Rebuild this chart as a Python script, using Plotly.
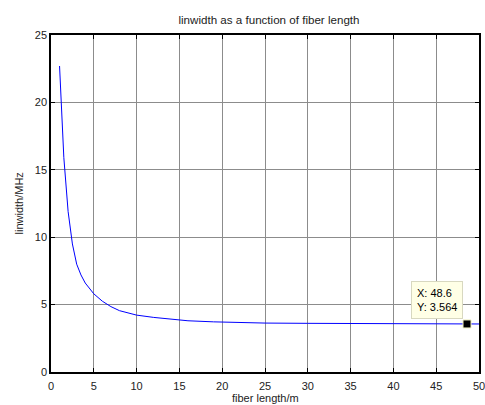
import plotly.graph_objects as go

fiber_length = [1, 1.2, 1.5, 2, 2.5, 3, 3.5, 4, 5, 6, 7, 8, 10, 12, 14, 16, 19, 22, 25,
                30, 35, 40, 45, 48.6, 50]
linewidth_mhz = [22.7, 20.0, 15.9, 11.9, 9.5, 8.0, 7.2, 6.6, 5.8, 5.25, 4.85, 4.55, 4.22,
                 4.05, 3.9, 3.8, 3.72, 3.66, 3.63, 3.61, 3.59, 3.575, 3.567, 3.564, 3.562]
tip_x = [48.6]
tip_y = [3.564]
x_ticks = [0, 5, 10, 15, 20, 25, 30, 35, 40, 45, 50]
y_ticks = [0, 5, 10, 15, 20, 25]

FONT = "Liberation Sans, Arial, sans-serif"
W, H = 485, 405
ML, MR, MT, MB = 51, 6, 35, 33

fig = go.Figure()
fig.add_trace(go.Scatter(x=fiber_length, y=linewidth_mhz, mode="lines",
                         line=dict(color="#0000FF", width=1), showlegend=False,
                         hoverinfo="skip"))
fig.add_trace(go.Scatter(x=tip_x, y=tip_y, mode="markers",
                         marker=dict(symbol="square", size=8, color="black",
                                     line=dict(color="#F0F0C0", width=1)),
                         showlegend=False, hoverinfo="skip"))

fig.add_annotation(x=tip_x[0], y=tip_y[0], xref="x", yref="y",
                   text="X: 48.6<br>Y: 3.564", showarrow=False, align="left",
                   xanchor="right", yanchor="bottom", xshift=-4, yshift=5,
                   bgcolor="#FFFFE6", bordercolor="#D8D8C0", borderwidth=1, borderpad=5,
                   font=dict(family=FONT, size=11, color="black"))

plot_w = W - ML - MR
plot_h = H - MT - MB
fig.add_annotation(text="fiber length/m", xref="paper", yref="paper",
                   x=0.5, y=-(398 - (H - MB)) / plot_h, xanchor="center", yanchor="middle",
                   showarrow=False, font=dict(family=FONT, size=11, color="#222"))
fig.add_annotation(text="linwidth/MHz", xref="paper", yref="paper",
                   x=-(ML - 18) / plot_w, y=0.5, xanchor="center", yanchor="middle",
                   textangle=-90, showarrow=False,
                   font=dict(family=FONT, size=11, color="#222"))

axis_common = dict(showline=True, linecolor="black", linewidth=1.5, mirror="ticks",
                   ticks="inside", ticklen=4, tickcolor="black", showgrid=True,
                   gridcolor="#8c8c8c", gridwidth=1, zeroline=False, automargin=False,
                   ticklabeloverflow="allow",
                   tickfont=dict(family=FONT, size=11, color="#222"))

fig.update_xaxes(range=[0, 50], tickvals=x_ticks, ticktext=[str(v) for v in x_ticks],
                 ticklabelstandoff=3, **axis_common)
fig.update_yaxes(range=[0, 25], tickvals=y_ticks, ticktext=[str(v) for v in y_ticks],
                 **axis_common)

fig.update_layout(
    width=W, height=H,
    margin=dict(l=ML, r=MR, t=MT, b=MB, autoexpand=False),
    paper_bgcolor="white", plot_bgcolor="white",
    title=dict(text="linwidth as a function of fiber length", x=(ML + plot_w / 2 + 4) / W,
               xanchor="center", y=1 - 20 / H, yanchor="middle",
               font=dict(family=FONT, size=11.6, color="#222")),
)

fig.write_html("out.html", config={"displayModeBar": False},
               post_script="document.body.style.margin='0';document.body.style.overflow='hidden';")
